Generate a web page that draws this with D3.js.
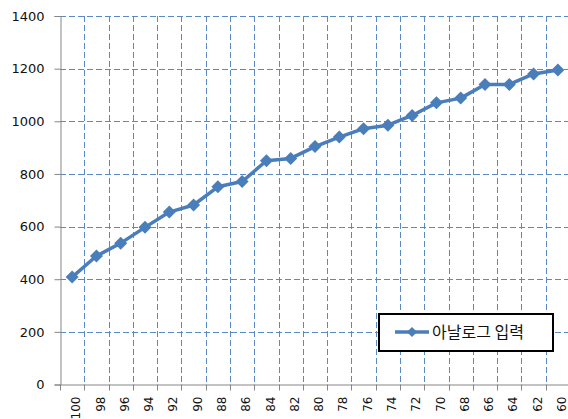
<!DOCTYPE html>
<html><head><meta charset="utf-8">
<script src="https://cdn.jsdelivr.net/npm/d3@7/dist/d3.min.js"></script>
<style>body{margin:0;background:#fff}svg{display:block}</style>
</head><body><svg id="c" width="568" height="419"></svg>
<script>
const categories = ["100","98","96","94","92","90","88","86","84","82","80","78","76","74","72","70","68","66","64","62","60"];
const values = [408,488,537,597,655,682,751,771,850,859,904,940,972,985,1022,1070,1088,1140,1140,1180,1195];
const yTicks = [0,200,400,600,800,1000,1200,1400];
const seriesName = "아날로그 입력";

const svg = d3.select("#c");
const L = 60, R = 570, T = 16, B = 384.5;
const x = d3.scaleBand().domain(categories).range([L, R]);
const y = d3.scaleLinear().domain([0, 1400]).range([B, T]);
const blue = "#4a7ebb", grid = "#5a8ac6", axisC = "#868686";

// horizontal gridlines
svg.append("g").selectAll("line").data(yTicks.filter(d => d > 0)).join("line")
  .attr("x1", L).attr("x2", 568).attr("y1", d => Math.round(y(d)) + 0.5).attr("y2", d => Math.round(y(d)) + 0.5)
  .attr("stroke", grid).attr("stroke-width", 1).attr("stroke-dasharray", "6,3");
// vertical gridlines at category boundaries
const bounds = categories.slice(1).map(c => x(c));
svg.append("g").selectAll("line").data(bounds).join("line")
  .attr("x1", d => Math.round(d) + 0.5).attr("x2", d => Math.round(d) + 0.5).attr("y1", T).attr("y2", B)
  .attr("stroke", grid).attr("stroke-width", 1).attr("stroke-dasharray", "6,3");

// y axis
const yAxis = d3.axisLeft(y).tickValues(yTicks).tickFormat(d3.format("d")).tickSize(6).tickPadding(10);
const gy = svg.append("g").attr("transform", `translate(${L + 0.5},0)`).call(yAxis);
gy.select(".domain").attr("stroke", axisC);
gy.selectAll(".tick line").attr("stroke", axisC);
gy.selectAll(".tick text").attr("font-family", "DejaVu Sans, Verdana, sans-serif").attr("font-size", 13).attr("fill", "#111");

// x axis
const gx = svg.append("g").attr("transform", `translate(0,${B})`);
gx.append("line").attr("x1", L).attr("x2", 568).attr("y1", 0.5).attr("y2", 0.5).attr("stroke", axisC);
gx.selectAll("line.tk").data([L, ...bounds]).join("line").attr("class", "tk")
  .attr("x1", d => Math.round(d) + 0.5).attr("x2", d => Math.round(d) + 0.5).attr("y1", 0).attr("y2", 6).attr("stroke", axisC);
gx.selectAll("text").data(categories).join("text")
  .attr("transform", d => `translate(${x(d) + x.bandwidth() / 2 + 4},${12}) rotate(-90)`)
  .attr("text-anchor", "end").attr("dy", "0.35em")
  .attr("font-family", "DejaVu Sans, Verdana, sans-serif").attr("font-size", 12).attr("fill", "#111")
  .text(d => d);

// line
const cx = d => x(d) + x.bandwidth() / 2;
const line = d3.line().x((d, i) => cx(categories[i])).y(d => y(d));
svg.append("path").datum(values).attr("d", line).attr("fill", "none")
  .attr("stroke", blue).attr("stroke-width", 3.5).attr("stroke-linejoin", "round");
const diamond = "M0,-6.5L6.5,0L0,6.5L-6.5,0Z";
svg.append("g").selectAll("path").data(values).join("path")
  .attr("transform", (d, i) => `translate(${cx(categories[i])},${y(d)})`)
  .attr("d", diamond).attr("fill", blue);

// legend
const lg = svg.append("g");
lg.append("rect").attr("x", 379).attr("y", 314).attr("width", 174).attr("height", 37)
  .attr("fill", "#fff").attr("stroke", "#000").attr("stroke-width", 2);
lg.append("line").attr("x1", 395).attr("x2", 429).attr("y1", 332).attr("y2", 332)
  .attr("stroke", blue).attr("stroke-width", 3.5);
lg.append("path").attr("transform", "translate(412,332)").attr("d", "M0,-5L5,0L0,5L-5,0Z").attr("fill", blue);
lg.append("text").attr("x", 432).attr("y", 332).attr("dy", "0.36em")
  .attr("font-family", "Noto Sans CJK KR, sans-serif").attr("font-size", 16).attr("fill", "#111")
  .text(seriesName);
</script></body></html>
